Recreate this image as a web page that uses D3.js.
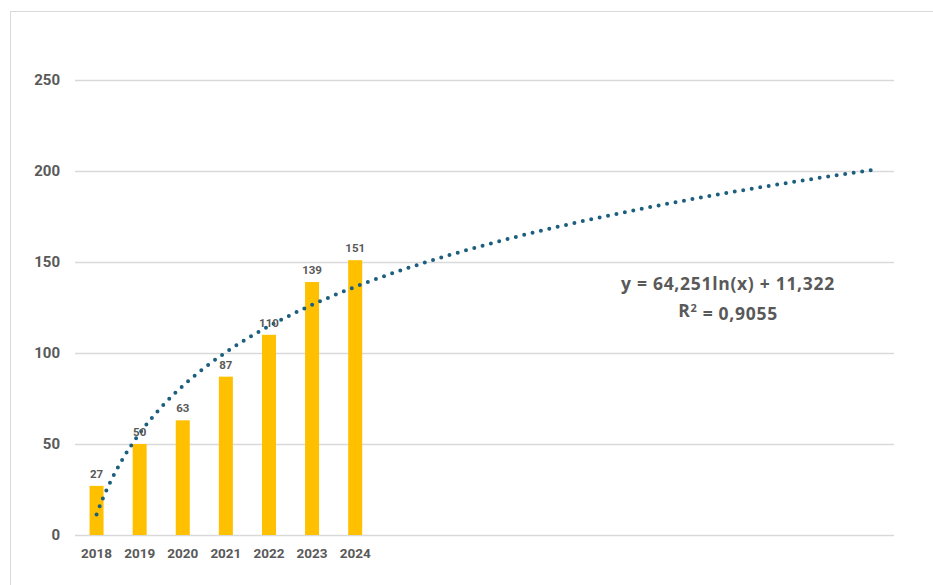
<!DOCTYPE html>
<html>
<head>
<meta charset="utf-8">
<script src="https://cdn.jsdelivr.net/npm/d3@7"></script>
<style>
  html, body { margin: 0; padding: 0; background: #fff; }
  svg { display: block; }
  text { font-family: Roboto, "Liberation Sans", sans-serif; font-weight: 700; fill: #595959; }
  .eq text { font-family: "Open Sans", Roboto, sans-serif; letter-spacing: 0.7px; }
</style>
</head>
<body>
<svg id="chart" width="933" height="585"></svg>
<script>
// ---- data ----
const years = ["2018", "2019", "2020", "2021", "2022", "2023", "2024"];
const values = [27, 50, 63, 87, 110, 139, 151];
const forecastPeriods = 12;            // trendline forecast forward
const yTicks = [0, 50, 100, 150, 200, 250];
const trendSlope = 64.251;             // y = a ln(x) + b
const trendIntercept = 11.322;
const equationLines = ["y = 64,251ln(x) + 11,322", "R2 = 0,9055"];

// ---- layout ----
const svg = d3.select("#chart");
const plot = { left: 75, right: 894, top: 80, bottom: 535 };

// frame border
svg.append("rect")
  .attr("x", 10.5).attr("y", 11.5)
  .attr("width", 940).attr("height", 600)
  .attr("fill", "none").attr("stroke", "#d9d9d9").attr("stroke-width", 1);

const nCats = years.length + forecastPeriods;
const idx = d3.range(1, nCats + 1);
const x = d3.scaleBand().domain(idx).range([plot.left, plot.right]).paddingInner(0.675).paddingOuter(0.3375);
const y = d3.scaleLinear().domain([0, 250]).range([plot.bottom, plot.top]);

// gridlines
svg.append("g").selectAll("line").data(yTicks).join("line")
  .attr("x1", plot.left).attr("x2", plot.right)
  .attr("y1", d => Math.round(y(d)) + 0.5).attr("y2", d => Math.round(y(d)) + 0.5)
  .attr("stroke", "#d9d9d9").attr("stroke-width", 1.3);

// y axis labels
svg.append("g").selectAll("text").data(yTicks).join("text")
  .attr("x", 60).attr("y", d => y(d))
  .attr("dy", "0.36em")
  .attr("text-anchor", "end")
  .style("font-size", "15px")
  .text(d => d);

// bars
const barData = years.map((yr, i) => ({ i: i + 1, yr, v: values[i] }));
svg.append("g").selectAll("rect").data(barData).join("rect")
  .attr("x", d => x(d.i)).attr("width", x.bandwidth())
  .attr("y", d => y(d.v)).attr("height", d => y(0) - y(d.v))
  .attr("fill", "#FFC000");

// x labels
svg.append("g").selectAll("text").data(barData).join("text")
  .attr("x", d => x(d.i) + x.bandwidth() / 2).attr("y", 558)
  .attr("text-anchor", "middle")
  .style("font-size", "13.5px")
  .text(d => d.yr);

// trendline
const center = i => x(i) + x.bandwidth() / 2;
const xc = d3.scaleLinear().domain([1, nCats]).range([center(1), center(nCats)]);
const samples = d3.range(1, nCats + 0.0001, 0.05);
const line = d3.line().x(t => xc(t)).y(t => y(trendSlope * Math.log(t) + trendIntercept));
svg.append("path").datum(samples)
  .attr("d", line)
  .attr("fill", "none")
  .attr("stroke", "#1B5E7E")
  .attr("stroke-width", 4)
  .attr("stroke-linecap", "round")
  .attr("stroke-dasharray", "0 8.6");

// data labels
svg.append("g").selectAll("text").data(barData).join("text")
  .attr("x", d => x(d.i) + x.bandwidth() / 2).attr("y", d => y(d.v) - 8)
  .attr("text-anchor", "middle")
  .style("font-size", "11.5px")
  .text(d => d.v);

// equation
const eq = svg.append("g").attr("class", "eq");
eq.append("text").attr("x", 728).attr("y", 290).attr("text-anchor", "middle")
  .style("font-size", "17.5px").text(equationLines[0]);
const r2 = eq.append("text").attr("x", 728).attr("y", 317).attr("text-anchor", "middle")
  .style("font-size", "17.5px");
r2.append("tspan").text("R");
r2.append("tspan").attr("dy", "-0.45em").style("font-size", "11px").text("2");
r2.append("tspan").attr("dy", "0.45em").text(" = 0,9055");
</script>
</body>
</html>
